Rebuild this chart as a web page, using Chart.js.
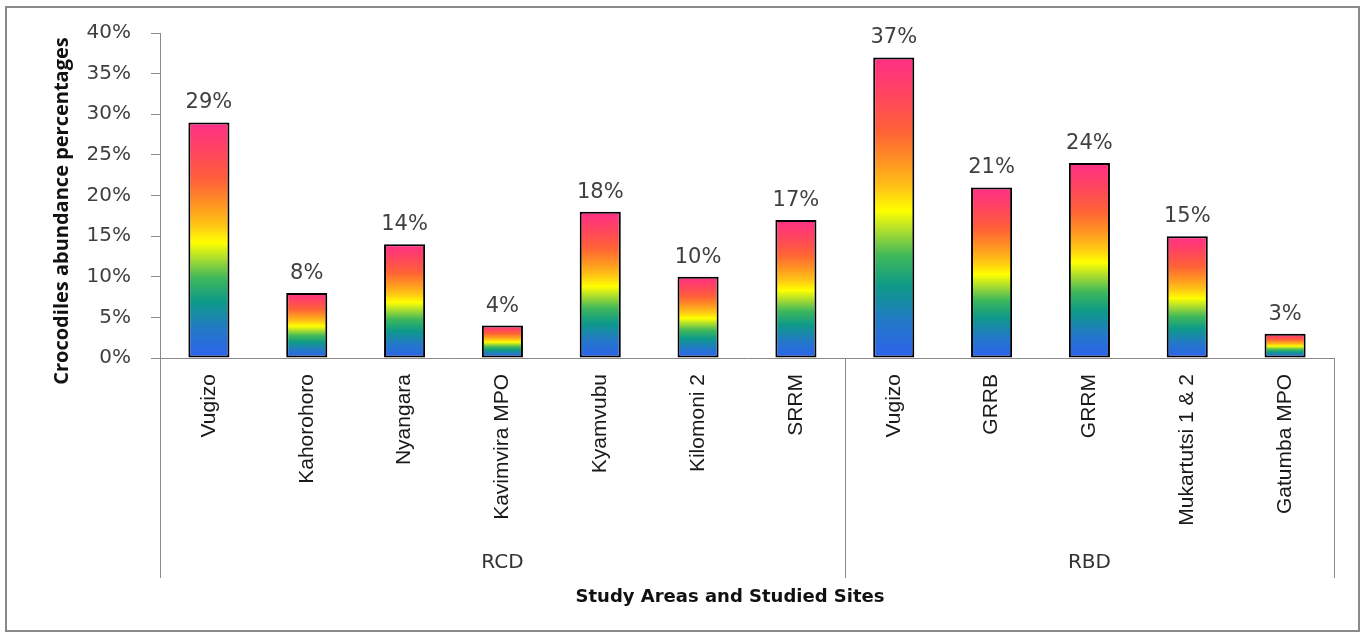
<!DOCTYPE html>
<html>
<head>
<meta charset="utf-8">
<script src="https://cdn.jsdelivr.net/npm/chart.js@4.4.1/dist/chart.umd.min.js"></script>
<style>
  html, body { margin: 0; padding: 0; background: #fff; }
  #wrap { width: 1365px; height: 637px; }
</style>
</head>
<body>
<div id="wrap"><canvas id="canvas"></canvas></div>
<script>
// sites in the order they appear, grouped by study area
var sites = ['Vugizo', 'Kahorohoro', 'Nyangara', 'Kavimvira MPO', 'Kyamvubu', 'Kilomoni 2', 'SRRM',
             'Vugizo', 'GRRB', 'GRRM', 'Mukartutsi 1 & 2', 'Gatumba MPO'];
var areas = ['RCD', 'RBD'];
var areaSizes = [7, 5];
var abundance = [29, 8, 14, 4, 18, 10, 17, 37, 21, 24, 15, 3];
var yMax = 40;
var yStep = 5;
var yTitle = 'Crocodiles abundance percentages';
var xTitle = 'Study Areas and Studied Sites';

var rainbow = [
    [0.00, '#2d62ee'],
    [0.12, '#2378c8'],
    [0.24, '#0e9a88'],
    [0.34, '#3fb85a'],
    [0.42, '#a8dc30'],
    [0.49, '#ffff00'],
    [0.56, '#ffc814'],
    [0.64, '#ff9a20'],
    [0.75, '#ff6236'],
    [0.88, '#ff4460'],
    [1.00, '#ff2f88']
];

function barGradient(context) {
    var chart = context.chart;
    if (!chart.chartArea || context.type !== 'data') return '#888';
    var y = chart.scales.y;
    var bottom = y.getPixelForValue(0);
    var top = y.getPixelForValue(context.raw);
    var g = chart.ctx.createLinearGradient(0, bottom, 0, top);
    rainbow.forEach(function(s) { g.addColorStop(s[0], s[1]); });
    return g;
}

var extras = {
    id: 'extras',
    beforeDraw: function(chart) {
        var c = chart.ctx;
        c.save();
        c.fillStyle = '#fff';
        c.fillRect(0, 0, chart.width, chart.height);
        c.strokeStyle = '#8a8a8a';
        c.lineWidth = 2;
        c.strokeRect(6, 7, 1353, 624);
        c.restore();
    },
    afterDatasetsDraw: function(chart) {
        var c = chart.ctx;
        var meta = chart.getDatasetMeta(0);
        c.save();
        c.font = '21px "DejaVu Sans"';
        c.fillStyle = '#404040';
        c.textAlign = 'center';
        c.textBaseline = 'alphabetic';
        meta.data.forEach(function(bar, i) {
            c.fillText(abundance[i] + '%', bar.x, bar.y - 14);
        });
        c.restore();
    },
    afterDraw: function(chart) {
        var c = chart.ctx;
        var x = chart.scales.x;
        var area = chart.chartArea;
        var lineBottom = 578;
        c.save();
        c.strokeStyle = '#8a8a8a';
        c.lineWidth = 1;
        var edges = [area.left];
        var idx = 0;
        areaSizes.forEach(function(n) {
            idx += n;
            if (idx < sites.length) {
                edges.push((x.getPixelForValue(idx - 1) + x.getPixelForValue(idx)) / 2);
            } else {
                edges.push(area.right);
            }
        });
        edges.forEach(function(px) {
            c.beginPath();
            c.moveTo(Math.round(px) + 0.5, area.bottom);
            c.lineTo(Math.round(px) + 0.5, lineBottom);
            c.stroke();
        });
        c.font = '20px "DejaVu Sans"';
        c.fillStyle = '#333';
        c.textAlign = 'center';
        c.textBaseline = 'middle';
        areas.forEach(function(a, i) {
            c.fillText(a, (edges[i] + edges[i + 1]) / 2, 563);
        });

        // axis titles
        c.fillStyle = '#111';
        c.font = 'bold 18px "DejaVu Sans"';
        c.fillText(xTitle, 730, 597);
        c.translate(62, 211);
        c.rotate(-Math.PI / 2);
        c.font = 'bold 20px "Open Sans"';
        c.fillText(yTitle, 0, 0);
        c.restore();
    }
};

new Chart(document.getElementById('canvas'), {
    type: 'bar',
    data: {
        labels: sites,
        datasets: [{
            data: abundance,
            backgroundColor: barGradient,
            borderColor: '#000',
            borderWidth: 2,
            borderSkipped: false,
            barPercentage: 0.42,
            categoryPercentage: 1
        }]
    },
    options: {
        responsive: true,
        maintainAspectRatio: false,
        animation: false,
        layout: { padding: { left: 48, top: 33, right: 31, bottom: 25 } },
        plugins: {
            legend: { display: false },
            tooltip: { enabled: false }
        },
        scales: {
            x: {
                grid: { display: false },
                border: { display: true, color: '#8a8a8a' },
                ticks: {
                    autoSkip: false,
                    minRotation: 90,
                    maxRotation: 90,
                    padding: 8,
                    color: '#1a1a1a',
                    font: { family: 'Liberation Sans', size: 21 }
                },
                afterFit: function(scale) { scale.height = 279 - 25; }
            },
            y: {
                min: 0,
                max: yMax,
                grid: { display: true, drawOnChartArea: false, drawTicks: true, tickLength: 9, color: '#8a8a8a' },
                border: { display: true, color: '#8a8a8a' },
                ticks: {
                    stepSize: yStep,
                    padding: 20,
                    color: '#404040',
                    font: { family: 'DejaVu Sans', size: 20 },
                    callback: function(v) { return v + '%'; }
                },
                afterFit: function(scale) { scale.width = 112; }
            }
        }
    },
    plugins: [extras]
});
</script>
</body>
</html>
